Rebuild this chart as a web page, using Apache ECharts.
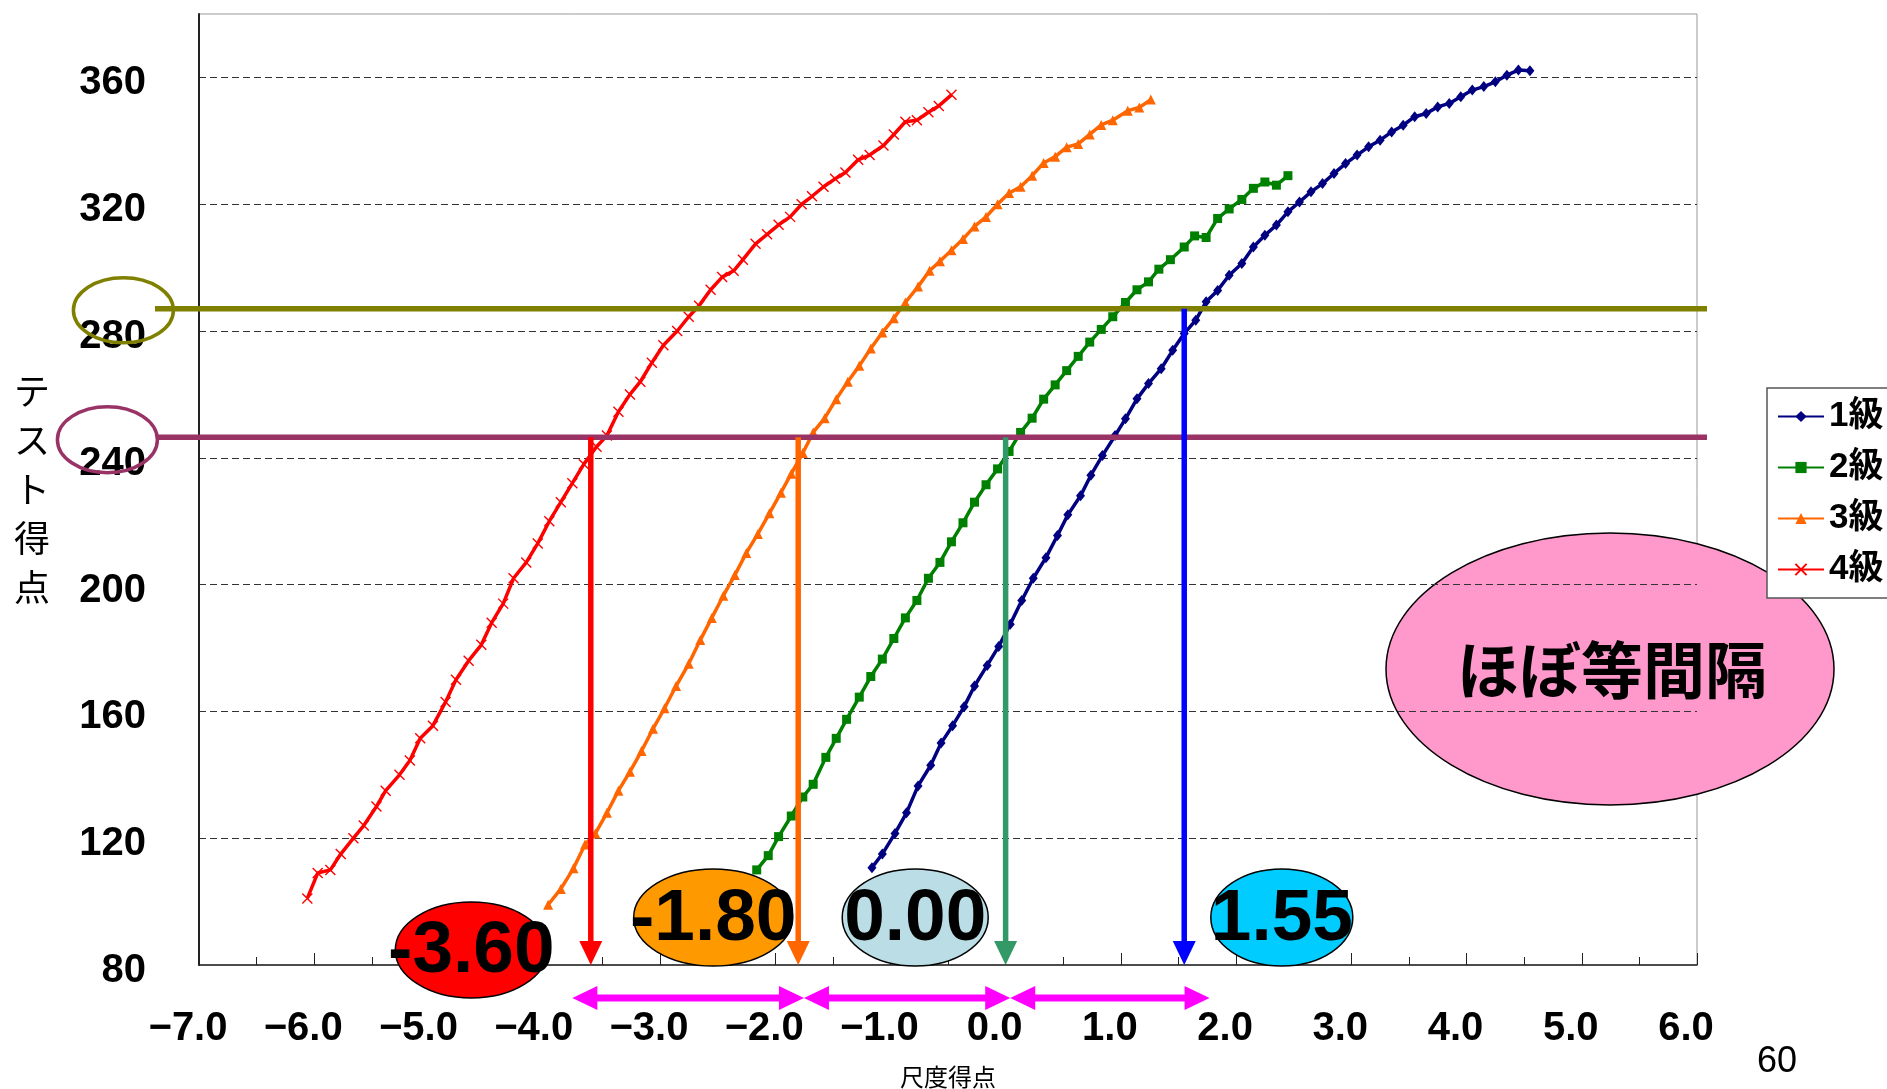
<!DOCTYPE html>
<html>
<head>
<meta charset="utf-8">
<script src="https://cdn.jsdelivr.net/npm/echarts@6/dist/echarts.min.js"></script>
<style>
  html, body { margin: 0; padding: 0; background: #fff; }
  #chart { width: 1887px; height: 1089px; }
</style>
</head>
<body>
<div id="chart"></div>
<script>
// Axis ranges (test score vs. scale score)
const X_MIN = -7, X_MAX = 6, X_STEP = 1;
const Y_MIN = 80, Y_MAX = 380, Y_STEP = 40;

const seriesNames = ['1級', '2級', '3級', '4級'];

// [scale score, test score] pairs for each grade
const grade1 = [
  [-1.16,110.7],[-1.07,115],[-0.96,121.5],[-0.86,128],[-0.76,136.5],[-0.65,143],[-0.56,150],
  [-0.46,155.5],[-0.36,161.5],[-0.27,168],[-0.16,174.5],[-0.06,180.5],[0.04,187.5],[0.14,195],
  [0.24,202],[0.35,208.5],[0.45,215.5],[0.54,222],[0.65,228],[0.74,234.5],[0.84,240.7],
  [0.95,247],[1.04,252.3],[1.14,258.6],[1.24,263.4],[1.35,268.1],[1.45,273.9],[1.55,279.2],
  [1.65,283.4],[1.74,289.2],[1.84,292.8],[1.94,297.6],[2.05,301.3],[2.15,306.5],[2.25,310.2],
  [2.35,313.4],[2.45,317.6],[2.55,320.7],[2.65,323.9],[2.75,326.5],[2.85,329.7],[2.95,332.8],
  [3.05,335.5],[3.15,338.1],[3.25,340.2],[3.35,342.8],[3.45,344.9],[3.55,347.6],[3.65,348.6],
  [3.75,350.7],[3.85,351.8],[3.95,353.9],[4.05,356],[4.15,357.1],[4.25,358.6],[4.35,360.7],
  [4.45,362.3],[4.55,362.1]
];
const grade2 = [
  [-2.16,110],[-2.06,114.5],[-1.97,120.5],[-1.86,127],[-1.76,133],[-1.67,137],[-1.56,145.5],
  [-1.47,151.5],[-1.38,157.5],[-1.27,164.5],[-1.17,171],[-1.07,176.5],[-0.97,183],[-0.87,189.5],
  [-0.77,195],[-0.67,202],[-0.57,207],[-0.47,213.5],[-0.37,219.5],[-0.27,226],[-0.17,231.5],
  [-0.07,236.5],[0.03,242],[0.13,248],[0.23,252.5],[0.33,258.5],[0.43,263],[0.53,267.5],
  [0.63,272],[0.73,276.5],[0.83,280.5],[0.93,284.5],[1.04,289],[1.14,293],[1.24,295.5],
  [1.33,299.5],[1.43,302.5],[1.55,306.5],[1.64,310],[1.74,309.5],[1.84,315.5],[1.94,318.5],
  [2.05,321.5],[2.15,325],[2.25,327],[2.35,326],[2.45,329]
];
const grade3 = [
  [-3.97,99],[-3.86,104],[-3.75,110.5],[-3.65,118],[-3.56,121.5],[-3.46,128],[-3.36,135],
  [-3.26,141],[-3.16,147.5],[-3.06,154.5],[-2.96,161],[-2.86,168],[-2.75,175],[-2.65,182.5],
  [-2.55,189.5],[-2.45,196.5],[-2.35,203],[-2.25,210],[-2.15,216],[-2.05,222.5],[-1.95,229],
  [-1.86,235],[-1.76,241.5],[-1.67,248],[-1.57,252.5],[-1.47,258.5],[-1.37,264],[-1.27,269],
  [-1.17,274.5],[-1.07,279.5],[-0.97,284],[-0.87,289],[-0.76,294],[-0.66,299],[-0.57,302],
  [-0.47,305.5],[-0.37,309],[-0.27,313],[-0.17,316],[-0.07,320],[0.03,323.5],[0.13,325.5],
  [0.23,329],[0.33,333],[0.43,335],[0.53,338],[0.63,339],[0.73,342],[0.83,345],[0.93,346.5],
  [1.06,349.5],[1.16,350.5],[1.26,353]
];
const grade4 = [
  [-6.06,101],[-5.97,109],[-5.86,110],[-5.77,115],[-5.66,120],[-5.57,124],[-5.46,130],
  [-5.38,135],[-5.26,140],[-5.17,144.5],[-5.08,151.5],[-4.97,155.5],[-4.86,163],[-4.77,170],
  [-4.66,176],[-4.55,181],[-4.46,188],[-4.36,194],[-4.27,202],[-4.16,207],[-4.06,213],
  [-3.96,220],[-3.86,226],[-3.76,232],[-3.66,238],[-3.55,243.5],[-3.46,247],[-3.36,254.5],
  [-3.26,260],[-3.17,264],[-3.07,270],[-2.97,275.5],[-2.85,280],[-2.75,284.5],[-2.66,288],
  [-2.56,293],[-2.46,297],[-2.36,299],[-2.28,302.5],[-2.17,307.5],[-2.07,310.5],[-1.97,313.5],
  [-1.87,316],[-1.77,320],[-1.68,322.5],[-1.58,325.5],[-1.48,328],[-1.39,330],[-1.28,334],
  [-1.18,335.5],[-1.06,338.5],[-0.97,342],[-0.87,346],[-0.77,346.5],[-0.67,349],[-0.58,351],
  [-0.47,354.5]
];

// Reference test scores (horizontal guide lines)
const cutScores = [287, 246.5];
// Scale scores where each grade crosses its guide, and which guide it hangs from
const markScores = [-3.60, -1.80, 0.00, 1.55];
const markCut = [1, 1, 1, 0];
// Ends of the equal-interval double arrows below the axis
const spanEnds = [-3.76, -1.75, 0.04, 1.77];

const calloutText = 'ほぼ等間隔';
const pageNumber = '60';

// ---------- styles ----------
const JP = "'Noto Sans CJK JP', 'Noto Sans', sans-serif";
const NUM = "'Liberation Sans', Arial, 'Noto Sans CJK JP', sans-serif";

const lineStyles = [
  { color: '#000080', symbol: 'diamond', size: [9, 11] },
  { color: '#008000', symbol: 'rect', size: 9 },
  { color: '#ff6600', symbol: 'triangle', size: 10 },
  { color: '#ff0000', symbol: 'path://M0,0L10,10M10,0L0,10', size: 10 }
];
const gradeData = [grade1, grade2, grade3, grade4];

const guideStyles = [
  { color: '#808000', ringDx: -75.6, ringDy: 1.5, rx: 50, ry: 32.5, startDx: -44 },
  { color: '#993366', ringDx: -91.6, ringDy: 2.5, rx: 50, ry: 33, startDx: -42 }
];
const arrowColors = ['#ff0000', '#ff6600', '#339966', '#0000ff'];
const badgeStyles = [
  { fill: '#ff0000', dx: -119.5, dy: -15, rx: 76, ry: 48 },
  { fill: '#ff9900', dx: -85, dy: -47.5, rx: 79.5, ry: 48.5 },
  { fill: '#bbdee6', dx: -90.4, dy: -47.5, rx: 73, ry: 48.5 },
  { fill: '#00ccff', dx: 97.6, dy: -47.5, rx: 71, ry: 48.5 }
];

const chart = echarts.init(document.getElementById('chart'), null, { renderer: 'canvas' });

const lineSeries = gradeData.map((d, i) => ({
  name: seriesNames[i],
  type: 'line',
  data: d,
  z: 2,
  symbol: lineStyles[i].symbol,
  symbolSize: lineStyles[i].size,
  showAllSymbol: true,
  lineStyle: { color: lineStyles[i].color, width: 3.5 },
  itemStyle: { color: lineStyles[i].color, borderColor: lineStyles[i].color, borderWidth: i === 3 ? 1.4 : 0 },
  emphasis: { disabled: true }
}));

// Horizontal guide lines with rings around the axis labels
const guideSeries = {
  type: 'custom',
  z: 3,
  clip: false,
  silent: true,
  encode: { x: 0, y: 1 },
  data: cutScores.map(s => [X_MIN, s]),
  renderItem(params, api) {
    const st = guideStyles[params.dataIndex];
    const p = api.coord([api.value(0), api.value(1)]);
    const cs = params.coordSys;
    return {
      type: 'group',
      children: [
        { type: 'line', shape: { x1: cs.x + st.startDx, y1: p[1], x2: cs.x + cs.width + 10, y2: p[1] },
          style: { stroke: st.color, lineWidth: 5.5 } },
        { type: 'ellipse', shape: { cx: cs.x + st.ringDx, cy: p[1] + st.ringDy, rx: st.rx, ry: st.ry },
          style: { fill: null, stroke: st.color, lineWidth: 3.5 } }
      ]
    };
  }
};

// Vertical arrows dropping from the guide lines to the scale axis
const arrowSeries = {
  type: 'custom',
  z: 4,
  clip: false,
  silent: true,
  encode: { x: 0, y: 1 },
  data: markScores.map((v, i) => [v, cutScores[markCut[i]]]),
  renderItem(params, api) {
    const col = arrowColors[params.dataIndex];
    const top = api.coord([api.value(0), api.value(1)]);
    const bot = api.coord([api.value(0), Y_MIN]);
    const headH = 24, headW = 23, shaft = 5.5;
    return {
      type: 'group',
      children: [
        { type: 'rect', shape: { x: top[0] - shaft / 2, y: top[1], width: shaft, height: bot[1] - headH - top[1] + 1 },
          style: { fill: col } },
        { type: 'polygon', shape: { points: [[bot[0] - headW / 2, bot[1] - headH], [bot[0] + headW / 2, bot[1] - headH], [bot[0], bot[1]]] },
          style: { fill: col } }
      ]
    };
  }
};

// Value badges next to each arrow
const badgeSeries = {
  type: 'custom',
  z: 5,
  clip: false,
  silent: true,
  encode: { x: 0, y: 1 },
  data: markScores.map(v => [v, Y_MIN]),
  renderItem(params, api) {
    const st = badgeStyles[params.dataIndex];
    const v = api.value(0);
    const p = api.coord([v, Y_MIN]);
    const cx = p[0] + st.dx, cy = p[1] + st.dy;
    return {
      type: 'group',
      children: [
        { type: 'ellipse', shape: { cx, cy, rx: st.rx, ry: st.ry },
          style: { fill: st.fill, stroke: '#000', lineWidth: 1.5 } },
        { type: 'text', x: cx, y: cy + 2,
          style: { text: v.toFixed(2), fill: '#000', fontFamily: NUM, fontWeight: 'bold', fontSize: 73,
                   align: 'center', verticalAlign: 'middle' } }
      ]
    };
  }
};

// Double-headed arrows showing the intervals between neighbouring grades
const spanSeries = {
  type: 'custom',
  z: 5,
  clip: false,
  silent: true,
  encode: { x: [0, 1], y: 2 },
  data: spanEnds.slice(0, -1).map((a, i) => [a, spanEnds[i + 1], Y_MIN]),
  renderItem(params, api) {
    const a = api.coord([api.value(0), Y_MIN]);
    const b = api.coord([api.value(1), Y_MIN]);
    const y = a[1] + 33, hl = 25, hh = 12, t = 3.6;
    const x0 = a[0], x1 = b[0];
    return {
      type: 'polygon',
      shape: { points: [
        [x0, y], [x0 + hl, y - hh], [x0 + hl, y - t], [x1 - hl, y - t], [x1 - hl, y - hh],
        [x1, y], [x1 - hl, y + hh], [x1 - hl, y + t], [x0 + hl, y + t], [x0 + hl, y + hh]
      ] },
      style: { fill: '#ff00ff' }
    };
  }
};

const option = {
  animation: false,
  backgroundColor: '#ffffff',
  grid: {
    left: 199, top: 14, right: 190, bottom: 124,
    show: true, borderColor: '#999', borderWidth: 1,
    outerBoundsMode: 'none'
  },
  legend: {
    data: seriesNames,
    orient: 'vertical',
    left: 1767, top: 388,
    padding: [9, 40, 9, 10],
    itemWidth: 46, itemHeight: 14, itemGap: 12,
    backgroundColor: '#fff', borderColor: '#555', borderWidth: 1.5, borderRadius: 0,
    textStyle: { fontFamily: NUM, fontSize: 35, fontWeight: 'bold', color: '#000', lineHeight: 39 },
    selectedMode: false
  },
  xAxis: {
    type: 'value', min: X_MIN, max: X_MAX, interval: X_STEP,
    name: '尺度得点', nameLocation: 'middle', nameGap: 112,
    nameTextStyle: { fontFamily: JP, fontSize: 24, color: '#000', verticalAlign: 'middle' },
    axisLine: { show: true, onZero: false, lineStyle: { color: '#222', width: 1.5 } },
    axisTick: { show: true, inside: true, length: 12, lineStyle: { color: '#222', width: 1 } },
    minorTick: { show: true, splitNumber: 2, length: 8, lineStyle: { color: '#222', width: 1 } },
    axisLabel: {
      margin: 64, verticalAlign: 'middle', padding: [0, 22, 0, 0],
      fontFamily: NUM, fontWeight: 'bold', fontSize: 40, color: '#000',
      formatter: v => (v < 0 ? '\u2212' : '') + Math.abs(v).toFixed(1)
    },
    splitLine: { show: false }
  },
  yAxis: {
    type: 'value', min: Y_MIN, max: Y_MAX, interval: Y_STEP,
    name: 'テ\nス\nト\n得\n点', nameLocation: 'middle', nameRotate: 0, nameGap: 167,
    nameTextStyle: { fontFamily: JP, fontSize: 36, lineHeight: 49, color: '#000', align: 'center', verticalAlign: 'middle' },
    axisLine: { show: true, onZero: false, lineStyle: { color: '#222', width: 2 } },
    axisTick: { show: false },
    axisLabel: {
      margin: 53, showMaxLabel: false, verticalAlign: 'top', lineHeight: 12,
      fontFamily: NUM, fontWeight: 'bold', fontSize: 40, color: '#000'
    },
    splitLine: { show: true, showMinLine: false, showMaxLine: false, lineStyle: { type: [7, 4], color: '#333', width: 1 } }
  },
  graphic: [
    {
      type: 'group', z: 100,
      children: [
        { type: 'ellipse', shape: { cx: 1610, cy: 669, rx: 224, ry: 136 },
          style: { fill: '#ff99cc', stroke: '#000', lineWidth: 1.5 } },
        { type: 'text', x: 1612, y: 670,
          style: { text: calloutText, fill: '#000', fontFamily: JP, fontWeight: 'bold', fontSize: 62,
                   align: 'center', verticalAlign: 'middle' } }
      ]
    },
    {
      type: 'text', x: 1777, y: 1062, z: 100,
      style: { text: pageNumber, fill: '#000', fontFamily: NUM, fontSize: 36, align: 'center', verticalAlign: 'middle' }
    }
  ],
  series: [...lineSeries, guideSeries, arrowSeries, badgeSeries, spanSeries]
};

chart.setOption(option);
</script>
</body>
</html>
